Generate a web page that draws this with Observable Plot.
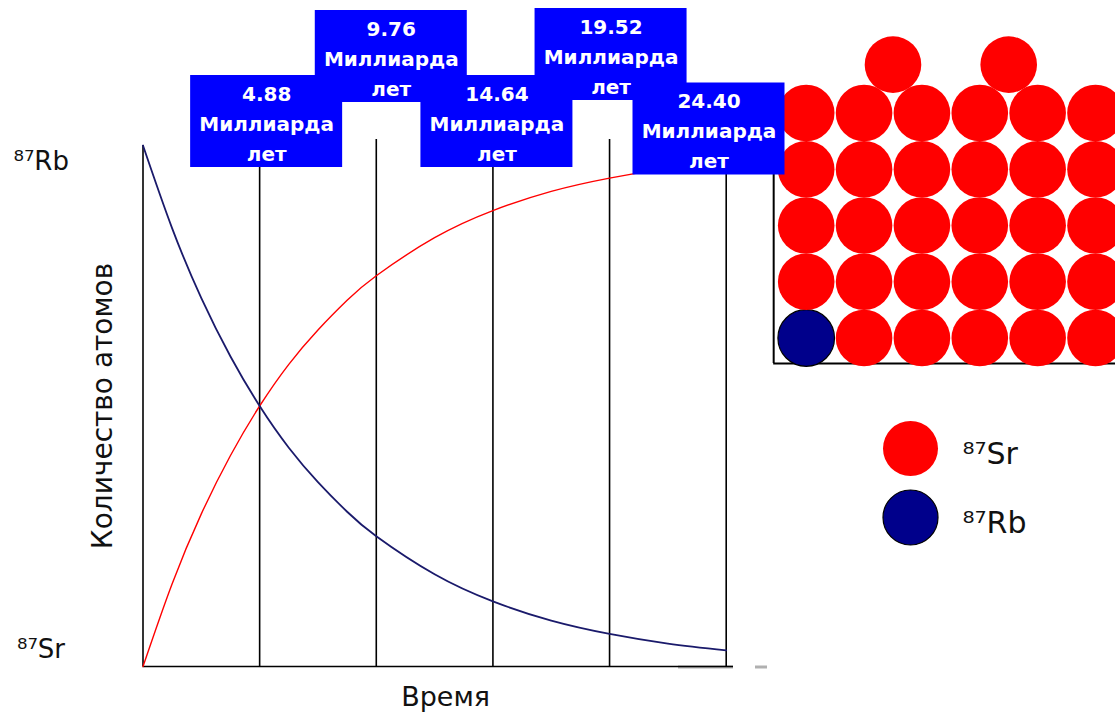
<!DOCTYPE html>
<html>
<head>
<meta charset="utf-8">
<script src="https://cdn.jsdelivr.net/npm/d3@7"></script>
<script src="https://cdn.jsdelivr.net/npm/@observablehq/plot@0.6"></script>
<style>
  html, body { margin: 0; padding: 0; background: #fff; }
  #wrap { position: relative; width: 1115px; height: 717px; overflow: hidden; font-family: "DejaVu Sans", Verdana, sans-serif; }
  #wrap > svg { position: absolute; left: 0; top: 0; }
</style>
</head>
<body>
<div id="wrap"></div>
<script>
// ---- data ----
const halfLives = [4.88, 9.76, 14.64, 19.52, 24.40];           // billion years
const halfLifeUnit = "Миллиарда\nлет";
const time = [0, 1.22, 2.44, 3.66, 4.88, 6.10, 7.32, 8.54, 9.76, 12.20, 14.64, 17.08, 19.52, 21.96, 24.40];
const rb87 = [1.000, 0.841, 0.707, 0.595, 0.500, 0.420, 0.354, 0.297, 0.250, 0.177, 0.125, 0.088, 0.0625, 0.044, 0.031];
const sr87 = [0.000, 0.159, 0.293, 0.405, 0.500, 0.580, 0.646, 0.703, 0.750, 0.823, 0.875, 0.912, 0.9375, 0.956, 0.969];
const yTickTop = "⁸⁷Rb";
const yTickBottom = "⁸⁷Sr";
const xLabel = "Время";
const yLabel = "Количество атомов";
// atom box: 6 columns x 5 rows, plus two atoms on top; one Rb left after 5 half-lives
const gridCols = [0, 1, 2, 3, 4, 5];
const gridRows = [0, 1, 2, 3, 4];
const extraCols = [1.5, 3.5];
const rbCell = [0, 0];
const legendKeys = ["Sr", "Rb"];
const legendLabels = ["⁸⁷Sr", "⁸⁷Rb"];

const RED = "#ff0000", NAVY = "#00008b", BLUE = "#0000ff", CURVE_BLUE = "#1a1a6b", INK = "#111";
const FONT = "DejaVu Sans";
const W = 1115, H = 717;
const wrap = document.getElementById("wrap");

const series = time.map((t, i) => ({t, rb: rb87[i], sr: sr87[i]}));

// ---- atom panel (underneath) ----
const atoms = [];
for (const r of gridRows) for (const c of gridCols)
  atoms.push({col: c, row: r, type: (c === rbCell[0] && r === rbCell[1]) ? "Rb" : "Sr"});
for (const c of extraCols) atoms.push({col: c, row: 4.86, type: "Sr"});

const atomPlot = Plot.plot({
  width: W, height: H,
  style: {background: "transparent"},
  x: {domain: [0, 5], range: [805.7, 1095], axis: null},
  y: {domain: [0, 4], range: [337.5, 112.5], axis: null},
  marks: [
    Plot.ruleX([-0.562], {y1: -0.455, y2: 4.5, stroke: "#000", strokeWidth: 2}),
    Plot.ruleY([-0.455], {x1: -0.562, x2: 6, stroke: "#000", strokeWidth: 2}),
    Plot.dot(atoms, {x: "col", y: "row", r: 28.3,
      fill: d => d.type === "Rb" ? NAVY : RED,
      stroke: d => d.type === "Rb" ? "#000" : "none", strokeWidth: 1.2})
  ]
});
wrap.appendChild(atomPlot);

// ---- legend ----
const legendPlot = Plot.plot({
  width: W, height: H,
  style: {background: "transparent"},
  x: {domain: [0, 1], range: [910, 1000], axis: null},
  y: {type: "point", domain: legendKeys, range: [447.5, 516.5], padding: 0, axis: null},
  marks: [
    Plot.dot(legendKeys, {x: () => 0, y: d => d, r: 27.5,
      fill: d => d === "Rb" ? NAVY : RED,
      stroke: d => d === "Rb" ? "#000" : "none", strokeWidth: 1.2}),
    Plot.text(legendKeys, {x: () => 0, y: d => d, dx: 52, dy: 6,
      text: (d, i) => legendLabels[i], textAnchor: "start",
      fontSize: 30, fill: INK, fontFamily: FONT})
  ]
});
wrap.appendChild(legendPlot);

// ---- main chart (on top) ----
const xOpts = {domain: [0, 24.40], range: [142.5, 725.7]};
const yOpts = {domain: [0, 1], range: [666, 145]};
// same mapping as the Plot scales, used to place the label boxes in pixels
const xs = d3.scaleLinear().domain(xOpts.domain).range(xOpts.range);
const ys = d3.scaleLinear().domain(yOpts.domain).range(yOpts.range);

// label boxes: layout in pixels relative to each half-life line
const boxHalfW = 76, boxHalfH = 46;
const boxDx = [7, 15, 4, 1.5, -17.2];
const boxCy = [121, 56, 121, 54, 128.5];
const boxes = halfLives.map((h, i) => {
  const cxp = xs(h) + boxDx[i];
  return {
    x1: xs.invert(cxp - boxHalfW), x2: xs.invert(cxp + boxHalfW),
    y1: ys.invert(boxCy[i] + boxHalfH), y2: ys.invert(boxCy[i] - boxHalfH),
    cx: xs.invert(cxp), cy: ys.invert(boxCy[i] - 0.5),
    label: h.toFixed(2) + "\n" + halfLifeUnit
  };
});

const mainPlot = Plot.plot({
  width: W, height: H,
  style: {background: "transparent"},
  x: {...xOpts, axis: null},
  y: {...yOpts, axis: null},
  marks: [
    Plot.ruleY([0], {x1: xs.invert(678), x2: xs.invert(733), dy: 0.5, stroke: "#b0b0b0", strokeWidth: 3}),
    Plot.ruleY([0], {x1: xs.invert(755), x2: xs.invert(767), dy: 0.5, stroke: "#b0b0b0", strokeWidth: 3}),
    Plot.ruleX(halfLives, {y1: 0, y2: 1.0115, stroke: "#000", strokeWidth: 1.6}),
    Plot.ruleY([0], {x1: 0, x2: xs.invert(733), stroke: "#000", strokeWidth: 1.6}),
    Plot.ruleX([0], {y1: 0, y2: 1, stroke: "#000", strokeWidth: 1.6}),
    Plot.line(series, {x: "t", y: "sr", stroke: RED, strokeWidth: 1.4, curve: "natural"}),
    Plot.line(series, {x: "t", y: "rb", stroke: CURVE_BLUE, strokeWidth: 1.8, curve: "natural"}),
    Plot.rect(boxes, {x1: "x1", x2: "x2", y1: "y1", y2: "y2", fill: BLUE}),
    Plot.text(boxes, {x: "cx", y: "cy", text: "label", fill: "#fff",
      fontSize: 20, fontWeight: "bold", lineHeight: 1.5, fontFamily: FONT}),
    Plot.text([yTickTop], {x: () => 0, y: () => 1, dx: -129.5, dy: 16.3,
      textAnchor: "start", fontSize: 26, fill: INK, fontFamily: FONT}),
    Plot.text([yTickBottom], {x: () => 0, y: () => 0, dx: -126, dy: -16.7,
      textAnchor: "start", fontSize: 26, fill: INK, fontFamily: FONT}),
    Plot.text([yLabel], {x: () => 0, y: () => 0.5, dx: -40, rotate: -90,
      fontSize: 28, fill: INK, fontFamily: FONT}),
    Plot.text([xLabel], {x: () => 12.2, y: () => 0, dx: 11, dy: 31,
      fontSize: 27, fill: INK, fontFamily: FONT})
  ]
});
wrap.appendChild(mainPlot);
</script>
</body>
</html>
